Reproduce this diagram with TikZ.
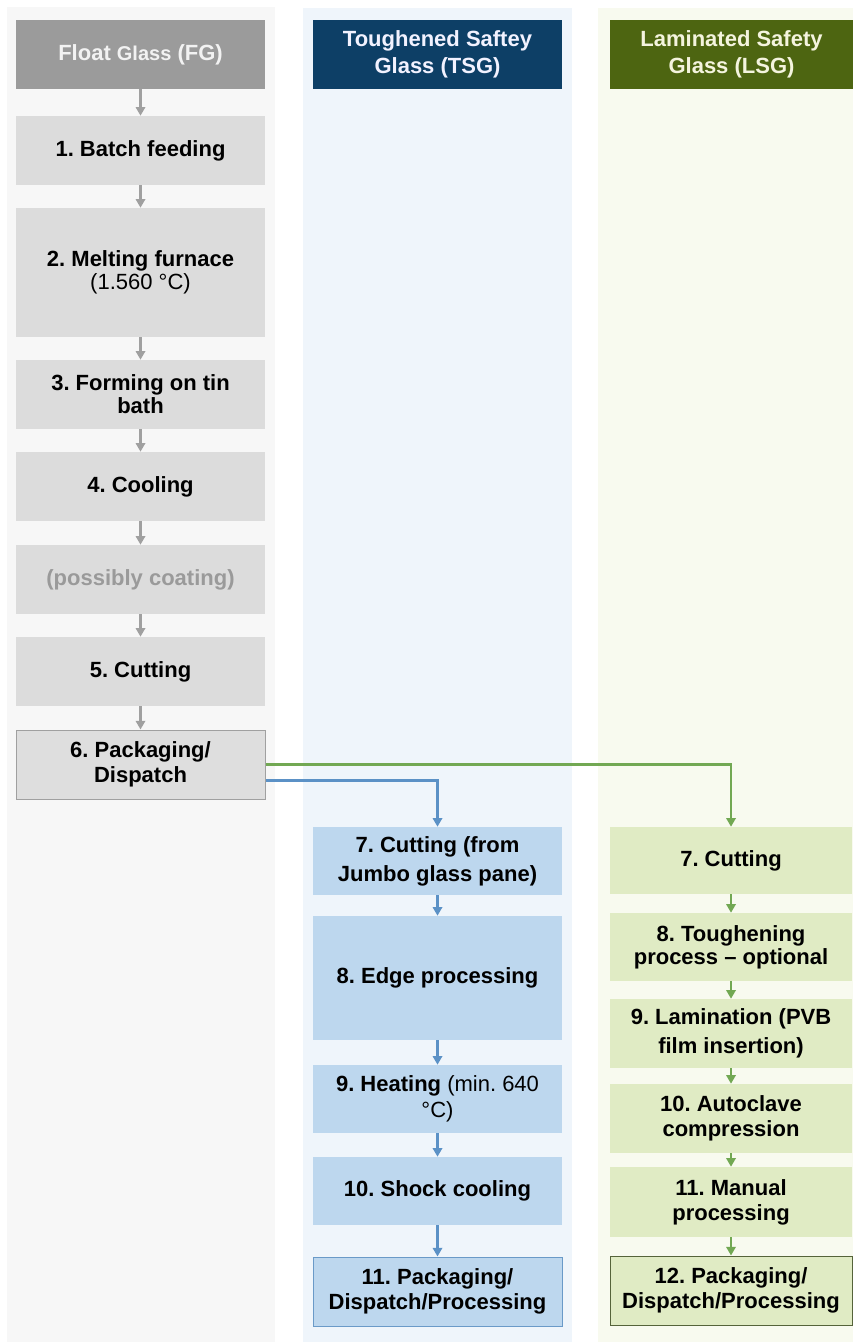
\documentclass[tikz,border=0pt]{standalone}
\usepackage{fontspec}
\setmainfont{Liberation Sans}
\usetikzlibrary{arrows.meta}
\definecolor{bgGray}{HTML}{F7F7F7}
\definecolor{bgBlue}{HTML}{EFF5FB}
\definecolor{bgGreen}{HTML}{F8FAEF}
\definecolor{hdGray}{HTML}{9B9B9B}
\definecolor{hdBlue}{HTML}{0D3F66}
\definecolor{hdGreen}{HTML}{4D6511}
\definecolor{fillGray}{HTML}{DCDCDC}
\definecolor{fillBlue}{HTML}{BDD7EE}
\definecolor{fillGreen}{HTML}{E0EBC4}
\definecolor{lnGray}{HTML}{A0A0A0}
\definecolor{lnBlue}{HTML}{5B91C6}
\definecolor{lnGreen}{HTML}{72A853}
\definecolor{bdBlue}{HTML}{6A9AC8}
\definecolor{bdGreen}{HTML}{55633A}
\definecolor{txGray}{HTML}{9A9A9A}
\definecolor{txCream}{HTML}{F4F4DE}
\newcommand\boxfont{\frenchspacing\bfseries\fontsize{16.5pt}{18.75pt}\selectfont}
\begin{document}
\begin{tikzpicture}[x=0.75pt,y=-0.75pt,
  box/.style={rectangle, inner sep=0pt, align=center, font=\boxfont, text=black},
  colA/.style={box, minimum width=186.75pt},
  colB/.style={box, minimum width=186.75pt},
  colC/.style={box, minimum width=181.5pt},
  hsixty/.style={minimum height=51.75pt},
  hsixtyeight/.style={minimum height=51pt},
  gbox/.style={colA, fill=fillGray},
  bbox/.style={colB, fill=fillBlue},
  lbox/.style={colC, fill=fillGreen},
  garr/.style={draw=lnGray, line width=1.8pt, -{Triangle[length=6.5pt,width=7pt]}},
  barr/.style={draw=lnBlue, line width=1.8pt, -{Triangle[length=6.5pt,width=7pt]}},
  larr/.style={draw=lnGreen, line width=1.8pt, -{Triangle[length=6.5pt,width=7pt]}}
]
\useasboundingbox (0,0) rectangle (853,1342);
% column backgrounds
\fill[bgGray] (7,7) rectangle (275,1342);
\fill[bgBlue] (303,8) rectangle (572,1342);
\fill[bgGreen] (598,8) rectangle (853,1342);

% headers
\node[colA, hsixty, fill=hdGray, text=white!95!black] (fg) at (140.5,54.5)
  {Float {\fontsize{15pt}{18pt}\selectfont Glass} (FG)};
\node[colB, hsixty, fill=hdBlue, text=white!95!blue] (tsg) at (437.5,54.5)
  {Toughened Saftey\\[1.5pt]Glass (TSG)};
\node[box, minimum width=182.25pt, hsixty, fill=hdGreen, text=txCream] (lsg) at (731.5,54.5)
  {Laminated Safety\\[1.5pt]Glass (LSG)};

% float glass column
\node[gbox, hsixty] (g1) at (140.5,150.5) {1. Batch feeding};
\node[gbox, minimum height=96.75pt] (g2) at (140.5,272.5)
  {2. Melting furnace\\[-1.5pt]\mdseries (1.560 °C)};
\node[gbox, hsixty] (g3) at (140.5,394.5) {3. Forming on tin\\[-1.5pt]bath};
\node[gbox, hsixty] (g4) at (140.5,486.5) {4. Cooling};
\node[gbox, hsixty, text=txGray] (gc) at (140.5,579.5) {(possibly coating)};
\node[gbox, hsixty] (g5) at (140.5,671.5) {5. Cutting};
\node[gbox, hsixty, fill=fillGray!95!white, draw=lnGray, line width=0.75pt] (g6) at (140.5,764.5)
  {6. Packaging/\\Dispatch};

\draw[garr] (fg) -- (g1);
\draw[garr] (g1) -- (g2);
\draw[garr] (g2) -- (g3);
\draw[garr] (g3) -- (g4);
\draw[garr] (g4) -- (gc);
\draw[garr] (gc) -- (g5);
\draw[garr] (g5) -- (g6);

% TSG column
\node[bbox, hsixtyeight] (t7) at (437.5,861) {7. Cutting (from\\[3pt]Jumbo glass pane)};
\node[bbox, minimum height=93pt] (t8) at (437.5,978) {8. Edge processing};
\node[bbox, hsixtyeight] (t9) at (437.5,1099)
  {9. Heating {\mdseries (min. 640}\\[1pt]{\mdseries °C)}};
\node[bbox, hsixtyeight] (t10) at (437.5,1191) {10. Shock cooling};
\node[bbox, hsixty, draw=bdBlue, line width=0.75pt] (t11) at (437.5,1291.5)
  {11. Packaging/\\Dispatch/Processing};

\draw[barr] (t7) -- (t8);
\draw[barr] (t8) -- (t9);
\draw[barr] (t9) -- (t10);
\draw[barr] (t10) -- (t11);

% LSG column
\node[lbox, minimum height=50.25pt] (l7) at (731,860.5) {7. Cutting};
\node[lbox, hsixtyeight] (l8) at (731,947) {8. Toughening\\[-1.5pt]process – optional};
\node[lbox, hsixty] (l9) at (731,1033.5) {9. Lamination (PVB\\[3pt]film insertion)};
\node[lbox, hsixty] (l10) at (731,1118.5) {10. Autoclave\\compression};
\node[lbox, minimum height=52.5pt] (l11) at (731,1202) {11. Manual\\processing};
\node[lbox, hsixty, draw=bdGreen, line width=0.75pt] (l12) at (731,1290.5)
  {12. Packaging/\\Dispatch/Processing};

\draw[larr] (l7) -- (l8);
\draw[larr] (l8) -- (l9);
\draw[larr] (l9) -- (l10);
\draw[larr] (l10) -- (l11);
\draw[larr] (l11) -- (l12);

% branches from packaging/dispatch
\draw[larr] (g6.east) -| (l7.north);
\draw[barr] ([yshift=-12pt]g6.east) -| (t7.north);
\end{tikzpicture}
\end{document}
